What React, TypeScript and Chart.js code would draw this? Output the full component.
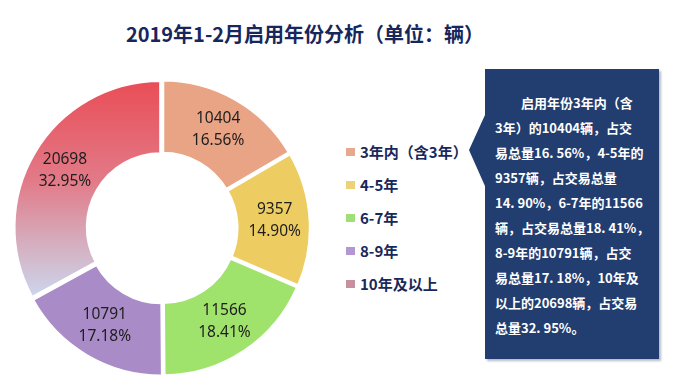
import React, { useEffect, useRef } from "react";
import { Chart, registerables } from "chart.js";

Chart.register(...registerables);

const categories = ["3年内（含3年）", "4-5年", "6-7年", "8-9年", "10年及以上"];
const counts = [10404, 9357, 11566, 10791, 20698];
const percents = ["16.56%", "14.90%", "18.41%", "17.18%", "32.95%"];
const titleText = "2019年1-2月启用年份分析（单位：辆）";
const noteLines = [
  "\u3000\u3000启用年份3年内（含",
  "3年）的10404辆，占交",
  "易总量16. 56%，4-5年的",
  "9357辆，占交易总量",
  "14. 90%，6-7年的11566",
  "辆，占交易总量18. 41%，",
  "8-9年的10791辆，占交",
  "易总量17. 18%，10年及",
  "以上的20698辆，占交易",
  "总量32. 95%。",
];

const sliceColors = ["#E9A385", "#EDCD62", "#A0E36C", "#A98BC7", "#E9525B"];
const legendColors = ["#E6A88E", "#EED27A", "#9EDF78", "#B297D2", "#C8909E"];

const labelPlugin = {
  id: "sliceLabels",
  afterDatasetsDraw(chart: any) {
    const ctx = chart.ctx;
    const meta = chart.getDatasetMeta(0);
    ctx.save();
    ctx.font = "15.5px 'Noto Sans', 'Liberation Sans', sans-serif";
    ctx.fillStyle = "#1e1e1e";
    ctx.textAlign = "center";
    ctx.textBaseline = "middle";
    meta.data.forEach((arc: any, i: number) => {
      const p = arc.tooltipPosition();
      ctx.fillText(String(counts[i]), p.x, p.y - 11);
      ctx.fillText(percents[i], p.x, p.y + 11);
    });
    ctx.restore();
  },
};

function DonutChart() {
  const ref = useRef<HTMLCanvasElement | null>(null);
  useEffect(() => {
    if (!ref.current) return;
    const chart = new Chart(ref.current, {
      type: "doughnut",
      data: {
        labels: categories,
        datasets: [
          {
            data: counts,
            backgroundColor: (c: any) => {
              const i = c.dataIndex;
              if (i === 4) {
                const g = c.chart.ctx.createLinearGradient(0, 8, 0, 222);
                g.addColorStop(0, "#E94F58");
                g.addColorStop(0.45, "#E27A88");
                g.addColorStop(0.75, "#D5AFC0");
                g.addColorStop(1, "#CCD7EE");
                return g;
              }
              return sliceColors[i];
            },
            borderColor: "#ffffff",
            borderWidth: 3,
            offset: 6,
            hoverOffset: 0,
          },
        ],
      },
      options: {
        animation: false,
        responsive: false,
        maintainAspectRatio: false,
        cutout: "50%",
        rotation: 0,
        layout: { padding: 0 },
        plugins: { legend: { display: false }, tooltip: { enabled: false } },
      },
      plugins: [labelPlugin],
    });
    return () => chart.destroy();
  }, []);
  return <canvas ref={ref} width={302} height={302} style={{ width: 302, height: 302, display: "block" }} />;
}

export default function App() {
  const cjk = "'Noto Sans CJK SC', 'Noto Sans', sans-serif";
  return (
    <div style={{ position: "absolute", left: 0, top: 0, width: 678, height: 384, background: "#fff", overflow: "hidden" }}>
      <div
        style={{
          position: "absolute",
          left: 0,
          top: 19,
          width: 610,
          textAlign: "center",
          fontFamily: cjk,
          fontWeight: 700,
          fontSize: 20,
          lineHeight: "30px",
          color: "#17275C",
        }}
      >
        {titleText}
      </div>
      <div style={{ position: "absolute", left: 11, top: 77 }}>
        <DonutChart />
      </div>
      <div style={{ position: "absolute", left: 346, top: 135 }}>
        {categories.map((c, i) => (
          <div key={c} style={{ display: "flex", alignItems: "center", height: 33, fontFamily: cjk, fontWeight: 700, fontSize: 15, color: "#18285A" }}>
            <span style={{ display: "inline-block", width: 9, height: 8, background: legendColors[i], marginRight: 5 }} />
            <span>{c}</span>
          </div>
        ))}
      </div>
      <div style={{ position: "absolute", left: 0, top: 0, filter: "drop-shadow(2px 2px 1px rgba(120,130,150,0.55))" }}>
        <div
          style={{
            position: "absolute",
            left: 469,
            top: 69,
            width: 190,
            height: 290,
            background: "#223D6F",
            clipPath: "polygon(16px 0, 190px 0, 190px 290px, 16px 290px, 16px 117px, 0 81px, 16px 46px)",
          }}
        />
      </div>
      <div
        style={{
          position: "absolute",
          left: 495,
          top: 90,
          width: 160,
          fontFamily: cjk,
          fontWeight: 700,
          fontSize: 13,
          lineHeight: "25px",
          color: "#ffffff",
          whiteSpace: "nowrap",
        }}
      >
        {noteLines.map((l, i) => (
          <div key={i}>{l}</div>
        ))}
      </div>
    </div>
  );
}
